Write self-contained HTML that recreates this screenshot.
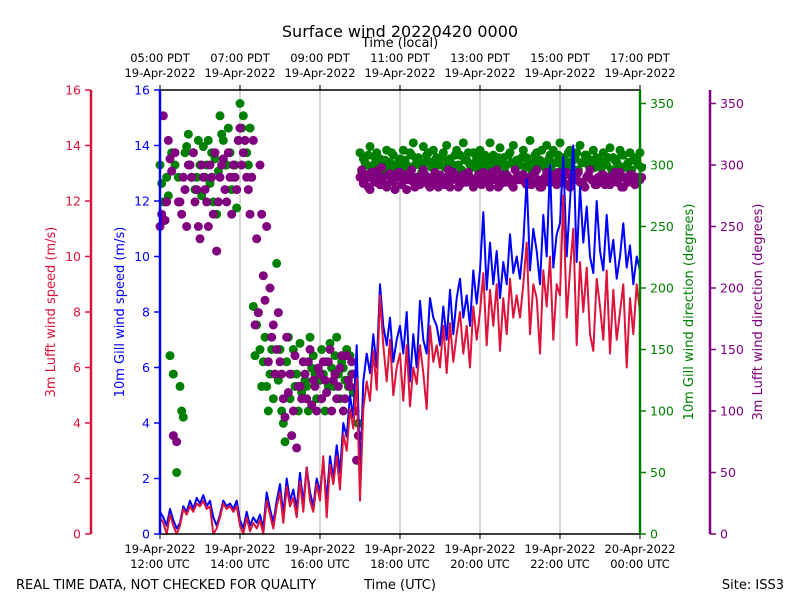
<!DOCTYPE html>
<html><head><meta charset="utf-8"><style>
body{margin:0;background:#fff;font-family:"Liberation Sans","DejaVu Sans",sans-serif}
svg text{font-family:"DejaVu Sans","Liberation Sans",sans-serif}
</style></head><body>
<svg id="chart" width="800" height="600" viewBox="0 0 800 600" xmlns="http://www.w3.org/2000/svg">
<rect width="800" height="600" fill="#fff"/>
<text x="400" y="37" text-anchor="middle" font-size="16">Surface wind 20220420 0000</text>
<text x="400" y="47" text-anchor="middle" font-size="13">Time (local)</text>
<text x="400" y="589" text-anchor="middle" font-size="13">Time (UTC)</text>
<text x="16" y="589" font-size="13">REAL TIME DATA, NOT CHECKED FOR QUALITY</text>
<text x="784" y="589" text-anchor="end" font-size="13">Site: ISS3</text>
<g id="grid"></g><g id="series"></g><g id="axes"></g>
</svg>
<script>
const speedGill=[0.8,0.6,0.3,0.9,0.5,0.2,0.4,1.0,0.8,1.2,0.9,1.3,
1.1,1.4,1.0,1.2,0.6,0.3,0.7,1.2,1.0,1.1,0.9,1.2,
0.5,0.2,0.8,0.3,0.6,0.4,0.7,0.2,1.5,0.9,0.4,1.2,
1.8,0.7,2.0,1.2,1.6,0.9,2.2,1.1,2.4,1.5,1.0,2.0,
1.5,2.6,1.2,2.8,2.0,3.2,2.2,4.0,3.5,5.0,4.2,6.8,
2.0,5.5,6.5,5.8,7.2,6.0,9.0,7.5,6.8,7.8,6.2,7.0,
7.5,6.5,8.0,5.5,7.2,6.0,8.4,7.0,6.5,8.5,7.8,7.5,
6.8,8.2,7.0,8.8,7.2,8.5,9.2,7.8,8.6,7.5,9.5,8.3,
9.5,11.6,8.8,10.5,9.0,10.2,8.5,9.8,9.0,10.8,9.4,10.0,
9.2,10.5,12.8,9.5,11.0,10.2,9.0,11.5,10.0,13.3,9.6,10.8,
11.2,13.6,10.0,12.0,14.0,9.8,12.5,10.5,11.8,10.0,9.4,12.0,
10.2,9.5,11.5,9.8,10.6,9.2,10.0,11.2,9.6,10.4,9.0,10.0,9.5];
const speedLufft=[0.6,0.4,0.0,0.7,0.3,0.0,0.3,0.9,0.7,1.0,0.8,1.1,
1.0,1.2,0.9,1.0,0.0,0.2,0.6,1.1,0.9,1.0,0.8,1.0,
0.3,0.0,0.6,0.1,0.4,0.2,0.5,0.0,1.2,0.7,0.2,1.0,
1.5,0.4,1.7,1.0,1.3,0.6,1.9,0.8,2.4,1.2,0.8,1.8,
1.2,2.8,0.6,2.5,1.8,2.8,1.6,3.6,3.0,4.5,3.8,5.6,
1.2,4.5,5.5,4.8,6.6,5.2,8.6,6.8,5.5,7.0,5.0,6.0,
6.5,4.8,6.8,4.6,6.0,5.4,6.8,5.8,4.5,7.5,6.2,6.8,
6.0,7.5,5.8,7.6,6.2,7.2,8.0,6.5,7.5,6.0,8.2,7.0,
8.0,9.4,6.8,8.8,7.5,9.0,6.6,8.5,7.2,9.2,7.8,8.6,
7.8,9.0,10.5,7.2,9.0,8.5,6.5,9.5,8.2,10.0,7.0,9.0,
8.6,12.2,7.8,9.5,11.0,6.8,9.8,8.0,9.6,7.2,6.6,9.2,
8.2,7.0,9.5,6.5,8.8,7.0,8.0,9.0,6.0,8.5,7.2,9.0,8.0];
const dirGillA=[300,270,290,145,130,50,120,95,315,300,310,290,
300,315,300,285,270,260,340,320,300,310,290,265,
350,340,310,330,185,170,150,140,120,130,110,220,
150,90,140,110,150,130,155,140,120,160,145,110,
125,130,140,155,120,160,110,135,150,145,115,60,
310,305,300,315,300,310,305,298,312,302,308,300,
305,312,300,310,318,304,300,315,308,302,312,306,
300,310,316,305,300,312,308,318,304,300,310,306,
312,305,300,318,308,302,314,306,300,310,316,304,
300,312,306,320,302,310,304,300,316,308,312,302,
318,306,300,312,304,310,316,302,308,300,312,306,
304,310,300,314,306,302,312,308,300,310,304,306,310];
const dirGillB=[285,255,275,310,300,290,100,310,325,290,280,320,
275,290,320,310,305,295,325,300,330,280,300,320,
330,320,300,290,145,180,120,160,100,150,130,125,
100,75,160,130,120,100,115,125,100,135,130,125,
150,100,120,135,145,130,140,125,120,130,100,90,
295,302,308,296,306,300,294,304,298,310,296,302,
298,304,296,308,300,306,294,302,310,298,304,300,
306,298,302,294,308,300,296,304,310,298,302,296,
300,308,296,304,298,306,300,294,308,302,298,304,
306,298,302,296,308,300,312,298,304,296,302,308,
300,304,310,298,306,296,302,308,300,304,298,302,
298,302,306,296,304,300,308,298,302,296,304,300,298];
const dirLufftA=[250,340,270,305,80,75,270,290,250,300,310,280,
240,290,270,300,260,230,290,305,270,290,300,280,
330,310,290,260,320,240,300,210,250,200,170,150,
140,110,160,130,100,70,120,140,110,150,125,100,
130,140,115,150,125,110,135,100,145,120,130,60,
290,285,292,280,288,295,284,290,282,293,286,290,
294,288,280,292,286,290,284,296,288,282,290,286,
292,286,290,282,294,288,284,292,286,290,282,288,
286,294,288,282,290,296,284,288,292,286,282,290,
288,292,284,290,286,296,282,288,294,286,290,284,
290,286,294,282,288,292,286,284,290,296,288,284,
286,292,288,284,290,286,294,282,288,292,286,290,288];
const dirLufftB=[260,255,320,295,310,270,260,280,300,290,270,250,
300,280,250,290,310,270,300,280,310,260,290,320,
300,320,280,290,170,180,260,190,140,160,130,180,
130,95,115,80,145,120,110,130,140,105,120,135,
110,125,140,100,130,120,145,110,125,140,100,80,
296,288,282,294,286,290,298,284,292,288,280,294,
284,292,288,296,282,290,286,292,284,290,294,282,
290,284,296,288,292,282,290,286,294,288,284,292,
284,290,286,294,288,282,292,286,290,284,296,288,
292,286,290,284,294,288,282,290,286,292,288,294,
286,292,284,290,288,294,286,282,292,288,284,290,
292,284,290,286,294,288,282,290,286,292,284,288,290];
const startMinute=0, stepMinutes=5;
const utcTicks=["12:00","14:00","16:00","18:00","20:00","22:00","00:00"];
const utcDates=["19-Apr-2022","19-Apr-2022","19-Apr-2022","19-Apr-2022","19-Apr-2022","19-Apr-2022","20-Apr-2022"];
const localTicks=["05:00 PDT","07:00 PDT","09:00 PDT","11:00 PDT","13:00 PDT","15:00 PDT","17:00 PDT"];
const speedTicks=[0,2,4,6,8,10,12,14,16];
const dirTicks=[0,50,100,150,200,250,300,350];

const NS="http://www.w3.org/2000/svg";
const L=160,R=640,T=90,B=534;
const xScale=m=>L+(m/720)*(R-L);
const ySpeed=v=>B-(v/16)*(B-T);
const yDir=d=>B-d*1.23;
function mk(tag,attrs,parent,txt){const e=document.createElementNS(NS,tag);for(const k in attrs)e.setAttribute(k,attrs[k]);if(txt!==undefined)e.textContent=txt;parent.appendChild(e);return e;}
const grid=document.getElementById('grid'),ser=document.getElementById('series'),ax=document.getElementById('axes');
utcTicks.forEach((t,i)=>{const x=xScale(i*120);
 if(i>0&&i<utcTicks.length-1){const g=mk('line',{x1:x,x2:x,y1:T,y2:B,stroke:'#b0b0b0','stroke-width':1},grid);
 
 }
 const tl=mk('line',{x1:x,x2:x,y1:B,y2:B+5,stroke:'#000'},ax);
 
 
 const a=mk('text',{x:x,y:553,'text-anchor':'middle','font-size':11.5},ax,utcDates[i]);
 
 
 const b=mk('text',{x:x,y:568,'text-anchor':'middle','font-size':11.5},ax,t+" UTC");
 
 
 const tt=mk('line',{x1:x,x2:x,y1:T,y2:T-5,stroke:'#000'},ax);
 
 
 const c=mk('text',{x:x,y:62,'text-anchor':'middle','font-size':11.5},ax,localTicks[i]);
 
 
 const d=mk('text',{x:x,y:77,'text-anchor':'middle','font-size':11.5},ax,"19-Apr-2022");
 
 
});
function dots(arr,color,name){arr.forEach((v,i)=>{if(v==null)return;
 const c=mk('circle',{cx:xScale(startMinute+i*stepMinutes),cy:yDir(v),r:4.5,fill:color},ser);
 
 });}
function dotsOff(arr,color,name){arr.forEach((v,i)=>{if(v==null)return;
 const c=mk('circle',{cx:xScale(startMinute+i*stepMinutes+2.5),cy:yDir(v),r:4.5,fill:color},ser);
 
 });}
dots(dirGillA,'#008000','gill-direction-point');
dotsOff(dirGillB,'#008000','gill-direction-point');
dots(dirLufftA,'#800080','lufft-direction-point');
dotsOff(dirLufftB,'#800080','lufft-direction-point');
function line(arr,color,name){const p=arr.map((v,i)=>xScale(startMinute+i*stepMinutes).toFixed(1)+','+ySpeed(v).toFixed(1)).join(' ');
 const l=mk('polyline',{points:p,fill:'none',stroke:color,'stroke-width':2,'stroke-linejoin':'round'},ser);
 
 }
line(speedGill,'#0000ff','gill-speed-line');
line(speedLufft,'#dc143c','lufft-speed-line');
// frame
const fr=mk('rect',{x:L,y:T,width:R-L,height:B-T,fill:'none',stroke:'#000','stroke-width':1.5},ax);


function vAxis(x,color,ticks,scale,dir,name,label,lx){
 const s=mk('line',{x1:x,x2:x,y1:T,y2:B,stroke:color,'stroke-width':2.5},ax);
 
 
 ticks.forEach(t=>{const y=scale(t);
  const tk=mk('line',{x1:x,x2:x+dir*6,y1:y,y2:y,stroke:color,'stroke-width':1.5},ax);
  
  
  const tx=mk('text',{x:x+dir*10,y:y+4.5,'text-anchor':dir<0?'end':'start','font-size':12.5,fill:color},ax,String(t));
  
  });
 const lb=mk('text',{x:lx,y:(T+B)/2,'text-anchor':'middle','font-size':13,fill:color,transform:`rotate(-90 ${lx} ${(T+B)/2})`},ax,label);
 
 }
vAxis(91,'#dc143c',speedTicks,ySpeed,-1,'lufft-speed-axis','3m Lufft wind speed (m/s)',55);
vAxis(160,'#0000ff',speedTicks,ySpeed,-1,'gill-speed-axis','10m Gill wind speed (m/s)',124);
vAxis(640,'#008000',dirTicks,yDir,1,'gill-direction-axis','10m Gill wind direction (degrees)',693);
vAxis(710,'#800080',dirTicks,yDir,1,'lufft-direction-axis','3m Lufft wind direction (degrees)',762);
</script>
</body></html>
